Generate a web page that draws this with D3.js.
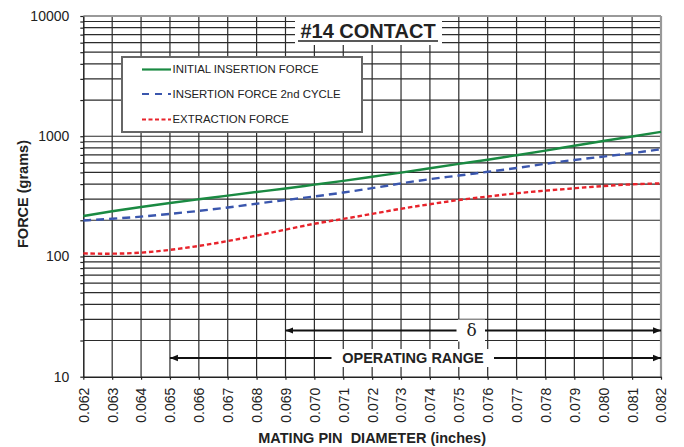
<!DOCTYPE html>
<html><head><meta charset="utf-8">
<script src="https://cdn.jsdelivr.net/npm/d3@7"></script>
<style>
html,body{margin:0;padding:0;background:#fff;}
svg{display:block;font-family:"Liberation Sans",Arial,sans-serif;}
</style></head>
<body>
<svg id="chart" width="684" height="447"></svg>
<script>
const diameters = [0.062,0.063,0.064,0.065,0.066,0.067,0.068,0.069,0.070,0.071,0.072,0.073,0.074,0.075,0.076,0.077,0.078,0.079,0.080,0.081,0.082];
const initialInsertion = [217,238,258,279,299,321,344,367,396,425,461,498,542,589,636,695,759,835,914,993,1087];
const insertion2nd = [199,206,214,226,239,255,275,295,315,340,369,406,441,470,507,542,592,636,677,722,780];
const extraction = [106,105,107,113,122,134,149,167,188,205,226,250,272,296,315,336,353,369,386,399,406];
const xTickLabels = ["0.062","0.063","0.064","0.065","0.066","0.067","0.068","0.069","0.070","0.071","0.072","0.073","0.074","0.075","0.076","0.077","0.078","0.079","0.080","0.081","0.082"];
const yMajorTicks = [10,100,1000,10000];
const seriesNames = ["INITIAL INSERTION FORCE","INSERTION FORCE 2nd CYCLE","EXTRACTION FORCE"];
const title = "#14 CONTACT";
const xTitle = "MATING PIN\u00a0\u00a0DIAMETER (inches)";
const yTitle = "FORCE (grams)";
const deltaRange = [0.069, 0.082];
const operatingRange = [0.065, 0.082];

const svg = d3.select("#chart");
const L = 83.3, R = 661, T = 16, B = 376.7;
const x = d3.scaleLinear().domain([0.062,0.082]).range([L,R]);
const y = d3.scaleLog().domain([10,10000]).range([B,T]);

const yAll = [];
for (let d = 10; d < 10000; d *= 10) for (let k = 1; k < 10; k++) yAll.push(d*k);
yAll.push(10000);

const grid = svg.append("g");
grid.selectAll("line.h").data(yAll.filter(v=>v>10 && v<10000)).join("line")
  .attr("x1",L).attr("x2",R).attr("y1",d=>y(d)).attr("y2",d=>y(d))
  .attr("stroke","#2b2b2b").attr("stroke-width",1.2);
grid.selectAll("line.v").data(diameters.slice(1,-1)).join("line")
  .attr("x1",d=>x(d)).attr("x2",d=>x(d)).attr("y1",T).attr("y2",B)
  .attr("stroke","#2b2b2b").attr("stroke-width",1.2);
grid.append("line").attr("x1",L).attr("x2",R).attr("y1",T).attr("y2",T).attr("stroke","#999").attr("stroke-width",2);
grid.append("line").attr("x1",R).attr("x2",R).attr("y1",T).attr("y2",B).attr("stroke","#999").attr("stroke-width",2.2);

const yAxis = d3.axisLeft(y).tickValues(yAll).tickSize(3).tickSizeOuter(0)
  .tickFormat(d => yMajorTicks.includes(d) ? String(d) : "");
const gy = svg.append("g").attr("transform",`translate(${L},0)`).call(yAxis);
gy.select(".domain").attr("stroke","#222").attr("stroke-width",1.5);
gy.selectAll(".tick line").attr("stroke","#222").attr("stroke-width",1.2);
gy.selectAll(".tick text").attr("font-size",14).attr("fill","#222").attr("x",-14)
  .attr("font-family","Liberation Sans, Arial, sans-serif");

const xAxis = d3.axisBottom(x).tickValues(diameters).tickSize(3).tickSizeOuter(0)
  .tickFormat((d,i)=>xTickLabels[i]);
const gx = svg.append("g").attr("transform",`translate(0,${B})`).call(xAxis);
gx.select(".domain").attr("stroke","#222").attr("stroke-width",1.5);
gx.selectAll(".tick line").attr("stroke","#222").attr("stroke-width",1.2);
gx.selectAll(".tick text").attr("font-size",14).attr("fill","#222")
  .attr("font-family","Liberation Sans, Arial, sans-serif")
  .attr("text-anchor","end").attr("transform","rotate(-90)")
  .attr("x",-11).attr("y",0).attr("dy","0.35em");

svg.append("text").attr("x",(L+R)/2).attr("y",443).attr("text-anchor","middle")
  .attr("font-size",14.5).attr("font-weight","bold").attr("fill","#222").text(xTitle);
svg.append("text").attr("transform","translate(28,194) rotate(-90)").attr("text-anchor","middle")
  .attr("font-size",14.5).attr("font-weight","bold").attr("fill","#222").text(yTitle);

svg.append("rect").attr("x",295).attr("y",T+1).attr("width",147).attr("height",28).attr("fill","#fff");
svg.append("text").attr("x",368).attr("y",38).attr("text-anchor","middle")
  .attr("font-size",20).attr("font-weight","bold").attr("fill","#222").text(title);
svg.append("line").attr("x1",298).attr("x2",438).attr("y1",41).attr("y2",41).attr("stroke","#222").attr("stroke-width",1.6);

const styles = [
  {data: initialInsertion, color:"#1a8a42", dash:null, w:2.4},
  {data: insertion2nd, color:"#3a56ad", dash:"8,5", w:2.4},
  {data: extraction, color:"#e8232b", dash:"4.5,2.8", w:2.4}
];
const line = d3.line().x((d,i)=>x(diameters[i])).y(d=>y(d)).curve(d3.curveBasis);
styles.forEach(s=>{
  svg.append("path").attr("d",line(s.data)).attr("fill","none")
    .attr("stroke",s.color).attr("stroke-width",s.w)
    .attr("stroke-dasharray",s.dash);
});

svg.append("rect").attr("x",122).attr("y",57).attr("width",240).attr("height",75)
  .attr("fill","#fff").attr("stroke","#666").attr("stroke-width",2);
const legY = [69.5,94,119.5];
styles.forEach((s,i)=>{
  svg.append("line").attr("x1",142).attr("x2",171).attr("y1",legY[i]).attr("y2",legY[i])
    .attr("stroke",s.color).attr("stroke-width",2.2).attr("stroke-dasharray",s.dash ? (i===1?"7,6":"4,2.5") : null);
  svg.append("text").attr("x",172.5).attr("y",legY[i]).attr("dy","0.35em")
    .attr("font-size",11.4).attr("fill","#222").text(seriesNames[i]);
});

const defs = svg.append("defs");
defs.append("marker").attr("id","ah").attr("viewBox","0 0 10 10").attr("refX",10).attr("refY",5)
  .attr("markerWidth",4).attr("markerHeight",4).attr("orient","auto-start-reverse")
  .attr("markerUnits","strokeWidth")
  .append("path").attr("d","M0,1 L10,5 L0,9 Z").attr("fill","#111");

const yDelta = y(24.2), yOp = y(14.3);
svg.append("rect").attr("x",458).attr("y",yDelta-11).attr("width",27).attr("height",22).attr("fill","#fff");
svg.append("line").attr("x1",x(deltaRange[0])).attr("x2",456.5).attr("y1",yDelta).attr("y2",yDelta)
  .attr("stroke","#111").attr("stroke-width",2).attr("marker-start","url(#ah)");
svg.append("line").attr("x1",485).attr("x2",x(deltaRange[1])).attr("y1",yDelta).attr("y2",yDelta)
  .attr("stroke","#111").attr("stroke-width",2).attr("marker-end","url(#ah)");
svg.append("text").attr("x",471.5).attr("y",yDelta).attr("dy","0.33em").attr("text-anchor","middle")
  .attr("font-family","DejaVu Serif, Liberation Serif, serif").attr("font-size",17).attr("fill","#222").text("δ");
svg.append("rect").attr("x",334).attr("y",yOp-9).attr("width",155).attr("height",18).attr("fill","#fff");
svg.append("line").attr("x1",x(operatingRange[0])).attr("x2",331.5).attr("y1",yOp).attr("y2",yOp)
  .attr("stroke","#111").attr("stroke-width",2).attr("marker-start","url(#ah)");
svg.append("line").attr("x1",494).attr("x2",x(operatingRange[1])).attr("y1",yOp).attr("y2",yOp)
  .attr("stroke","#111").attr("stroke-width",2).attr("marker-end","url(#ah)");
svg.append("text").attr("x",413).attr("y",yOp).attr("dy","0.36em").attr("text-anchor","middle")
  .attr("font-size",14.5).attr("font-weight","bold").attr("fill","#222").text("OPERATING RANGE");
</script>
</body></html>
